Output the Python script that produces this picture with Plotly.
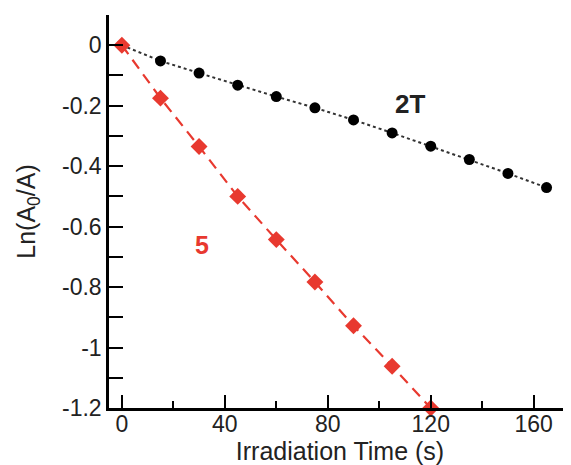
import plotly.graph_objects as go

# irradiation time (s) and ln(A0/A)
time_2t = [0, 15, 30, 45, 60, 75, 90, 105, 120, 135, 150, 165]
ln_2t = [0, -0.052, -0.092, -0.132, -0.170, -0.207, -0.247, -0.290, -0.334, -0.378, -0.424, -0.471]

time_5 = [0, 15, 30, 45, 60, 75, 90, 105, 120]
ln_5 = [0, -0.175, -0.335, -0.500, -0.643, -0.783, -0.928, -1.062, -1.200]

x_ticks = [0, 40, 80, 120, 160]
x_labels = ['0', '40', '80', '120', '160']
y_ticks = [0, -0.2, -0.4, -0.6, -0.8, -1, -1.2]
y_labels = ['0', '-0.2', '-0.4', '-0.6', '-0.8', '-1', '-1.2']

RED = '#e8392f'
FONT = 'Liberation Sans, Arial, sans-serif'

fig = go.Figure()

fig.add_trace(go.Scatter(
    x=time_2t, y=ln_2t, mode='lines+markers',
    line=dict(color='#333333', width=2, dash='dot'),
    marker=dict(symbol='circle', size=11, color='black'),
    cliponaxis=False, showlegend=False
))

fig.add_trace(go.Scatter(
    x=time_5, y=ln_5, mode='lines+markers',
    line=dict(color=RED, width=2.2, dash='11px,7px'),
    marker=dict(symbol='diamond', size=13, color=RED),
    cliponaxis=False, showlegend=False
))

fig.add_annotation(x=112, y=-0.195, text='<b>2T</b>', showarrow=False,
                   font=dict(family=FONT, size=26, color='#222222'))
fig.add_annotation(x=31, y=-0.66, text='<b>5</b>', showarrow=False,
                   font=dict(family=FONT, size=25, color=RED))

fig.update_xaxes(
    range=[-5, 174.5], showgrid=False, zeroline=False,
    showline=True, linecolor='black', linewidth=2.5,
    ticks='inside', ticklen=13, tickwidth=2, tickcolor='black',
    tickvals=x_ticks, ticktext=x_labels, ticklabelstandoff=-6,
    minor=dict(dtick=20, tick0=0, ticks='inside', ticklen=7, tickwidth=2, tickcolor='black'),
    tickfont=dict(family=FONT, size=23, color='#222222'),
    title=dict(text='Irradiation Time (s)', standoff=0,
               font=dict(family=FONT, size=25, color='#222222'))
)
fig.update_yaxes(
    range=[-1.2, 0.1], showgrid=False, zeroline=False,
    showline=True, linecolor='black', linewidth=2.5,
    ticks='inside', ticklen=14, tickwidth=2, tickcolor='black',
    tickvals=y_ticks, ticktext=y_labels,
    minor=dict(dtick=0.1, tick0=0, ticks='inside', ticklen=14, tickwidth=2, tickcolor='black'),
    tickfont=dict(family=FONT, size=23, color='#222222'),
    title=dict(text='Ln(A<sub>0</sub>/A)', standoff=20,
               font=dict(family=FONT, size=25, color='#222222'))
)

# page body keeps its default 8px margin, so the figure is a bit smaller
fig.update_layout(
    width=563, height=457,
    margin=dict(l=101, r=0, t=7, b=57, autoexpand=False),
    plot_bgcolor='white', paper_bgcolor='white'
)

fig.write_html("out.html")
